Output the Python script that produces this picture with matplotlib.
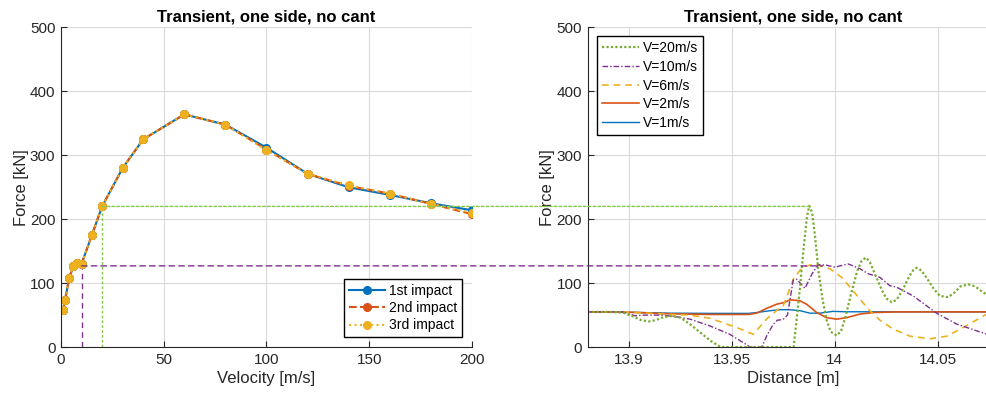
import numpy as np
import matplotlib
matplotlib.use('Agg')
import matplotlib.pyplot as plt
from matplotlib.patches import ConnectionPatch

plt.rcParams['font.family'] = ['Liberation Sans', 'DejaVu Sans']

# Left plot: peak force vs velocity for three impacts
velocity = [1, 2, 4, 6, 8, 10, 15, 20, 30, 40, 60, 80, 100, 120, 140, 160, 180, 200]
force_1st = [58, 74, 108, 127, 131, 130, 175, 220, 280, 325, 364, 348, 312, 271, 250, 238, 225, 214]
force_2nd = [58, 74, 108, 127, 131, 130, 175, 220, 280, 325, 364, 348, 309, 271, 252, 240, 224, 208]
force_3rd = [58, 74, 108, 127, 131, 130, 175, 220, 280, 325, 364, 348, 308, 271, 253, 240, 224, 210]

# Right plot: force time histories against distance
x_v20 = [13.880, 13.890, 13.897, 13.902, 13.906, 13.9095, 13.913, 13.917, 13.921, 13.925,
         13.930, 13.935, 13.940, 13.9446, 13.960, 13.980, 13.981, 13.983, 13.985, 13.9865,
         13.9876, 13.989, 13.9905, 13.992, 13.994, 13.996, 13.998, 14.0009, 14.003, 14.005,
         14.008, 14.011, 14.013, 14.0151, 14.017, 14.020, 14.023, 14.025, 14.0276, 14.030,
         14.033, 14.036, 14.038, 14.0397, 14.042, 14.045, 14.048, 14.051, 14.055, 14.058,
         14.061, 14.0648, 14.068, 14.071, 14.0741, 14.080]
f_v20 = [55, 55, 54, 48, 42, 40, 42, 47, 48.5, 46,
         35, 22, 9, 0, 0, 0, 30, 90, 160, 205,
         221, 210, 170, 120, 75, 42, 24, 18, 25, 45,
         85, 120, 135, 140, 133, 110, 88, 76, 70, 74,
         90, 110, 120, 124, 120, 106, 91, 80, 78, 85,
         95, 98, 95, 88, 81, 74]

x_v10 = [13.880, 13.897, 13.903, 13.908, 13.915, 13.922, 13.9297, 13.9394, 13.949, 13.9555,
         13.9588, 13.9645, 13.967, 13.970, 13.972, 13.9748, 13.977, 13.9798, 13.9815, 13.9855,
         13.989, 13.992, 13.996, 14.000, 14.0065, 14.0122, 14.0162, 14.0219, 14.0267, 14.030,
         14.038, 14.0494, 14.0591, 14.0738, 14.080]
f_v10 = [55, 55, 49, 50, 50, 48, 43.7, 33, 20, 7,
         0, 0, 18, 35, 42, 43, 50, 105, 106, 92,
         115, 129, 128, 125, 130, 122.5, 114.7, 109, 96, 93.7,
         80, 53, 36, 20, 17]

x_v6 = [13.880, 13.897, 13.910, 13.920, 13.9297, 13.9394, 13.9458, 13.952, 13.9604, 13.9669,
        13.9717, 13.975, 13.978, 13.980, 13.984, 13.9895, 13.993, 13.9976, 14.0033, 14.0081,
        14.0122, 14.0162, 14.0219, 14.0284, 14.0365, 14.0462, 14.0543, 14.0623, 14.0738, 14.080]
f_v6 = [55, 55, 53, 51, 50, 45, 38, 31, 20, 44,
        57, 65, 90, 107, 124, 130, 127, 122.5, 109, 91,
        75, 59.5, 42, 28, 17, 13, 17, 30.6, 51.6, 58]

x_v2 = [13.880, 13.900, 13.920, 13.940, 13.958, 13.962, 13.9669, 13.9717, 13.9758, 13.9782,
        13.9830, 13.9863, 13.9912, 13.996, 14.0009, 14.0057, 14.0122, 14.0186, 14.030, 14.080]
f_v2 = [55, 54.5, 52, 51, 51, 53, 60.5, 67, 70, 74,
        72.5, 67, 54, 46, 43.7, 46, 51.6, 54, 55, 55]

x_v1 = [13.880, 13.900, 13.920, 13.940, 13.958, 13.962, 13.9684, 13.9733, 13.978, 13.983,
        13.9879, 13.9927, 13.999, 14.0057, 14.080]
f_v1 = [55, 54.5, 53, 52.7, 52.7, 54, 56.8, 58.4, 58.4, 57,
        53, 53, 55.8, 55.2, 55]

# reference lines linking the two plots
ref_v = [20, 10]
ref_f = [220, 127]
ref_x = [13.9876, 13.994]

blue = '#0072BD'
orange = '#D95319'
yellow = '#EDB120'
purple = '#7E2F8E'
green = '#77AC30'
txt = '#262626'

fig = plt.figure(figsize=(9.87, 3.98), dpi=100)
ax1 = fig.add_axes([0.0618, 0.128, 0.4164, 0.803])
ax2 = fig.add_axes([0.5954, 0.128, 0.4174, 0.803])

for ax in (ax1, ax2):
    ax.grid(True, color='#dadada', linewidth=0.8)
    ax.set_axisbelow(True)
    ax.spines['top'].set_visible(False)
    ax.spines['right'].set_visible(False)
    ax.spines['left'].set_color(txt)
    ax.spines['bottom'].set_color(txt)
    ax.tick_params(direction='in', length=4, colors=txt, labelsize=11, pad=4)
    ax.set_ylim(0, 500)
    ax.set_yticks([0, 100, 200, 300, 400, 500])
    ax.set_ylabel('Force [kN]', fontsize=12, color=txt, labelpad=1)
    ax.set_title('Transient, one side, no cant', fontsize=12, fontweight='bold', pad=4)

# left
ax1.plot(velocity, force_1st, '-', color=blue, lw=1.5, marker='o', ms=5.5, label='1st impact')
ax1.plot(velocity, force_2nd, '--', color=orange, lw=1.5, marker='o', ms=5.5, label='2nd impact')
ax1.plot(velocity, force_3rd, ':', color=yellow, lw=1.5, marker='o', ms=5.5, label='3rd impact')
ax1.set_xlim(0, 200)
ax1.set_xticks([0, 50, 100, 150, 200])
ax1.set_xlabel('Velocity [m/s]', fontsize=12, color=txt, labelpad=3)
leg1 = ax1.legend(loc='lower right', fontsize=10, fancybox=False, edgecolor='black',
                  framealpha=1, borderaxespad=0.7, handlelength=2.6, labelspacing=0.25,
                  handletextpad=0.3, borderpad=0.35)
leg1.get_frame().set_linewidth(1.0)

# right
l1, = ax2.plot(x_v1, f_v1, '-', color=blue, lw=1.0, label='V=1m/s')
l2, = ax2.plot(x_v2, f_v2, '-', color=orange, lw=1.2, label='V=2m/s')
l6, = ax2.plot(x_v6, f_v6, color=yellow, lw=1.2, ls=(0, (4, 3)), label='V=6m/s')
l10, = ax2.plot(x_v10, f_v10, color=purple, lw=1.0, ls=(0, (4, 1.5, 1, 1.5)), label='V=10m/s')
l20, = ax2.plot(x_v20, f_v20, color=green, lw=1.6, ls=(0, (1, 1)), label='V=20m/s')
ax2.set_xlim(13.88, 14.08)
ax2.set_xticks([13.9, 13.95, 14.0, 14.05])
ax2.set_xticklabels(['13.9', '13.95', '14', '14.05'])
ax2.set_xlabel('Distance [m]', fontsize=12, color=txt, labelpad=3)
leg2 = ax2.legend(handles=[l20, l10, l6, l2, l1], loc='upper left', fontsize=10,
                  fancybox=False, edgecolor='black', framealpha=1, borderaxespad=0.65,
                  handlelength=2.7, labelspacing=0.33, handletextpad=0.3, borderpad=0.35)
leg2.get_frame().set_linewidth(1.0)

# reference lines
ref_cols = ['#86c94a', purple]
ref_ls = [(0, (2, 1.5)), (0, (4, 3))]
for v, f, x, c, s in zip(ref_v, ref_f, ref_x, ref_cols, ref_ls):
    ax1.plot([v, v], [0, f], color=c, ls=s, lw=1.0, zorder=1)
    con = ConnectionPatch(xyA=(v, f), coordsA=ax1.transData, xyB=(x, f), coordsB=ax2.transData,
                          color=c, ls=s, lw=1.0, zorder=1)
    fig.add_artist(con)

fig.savefig('out.png', dpi=100)
